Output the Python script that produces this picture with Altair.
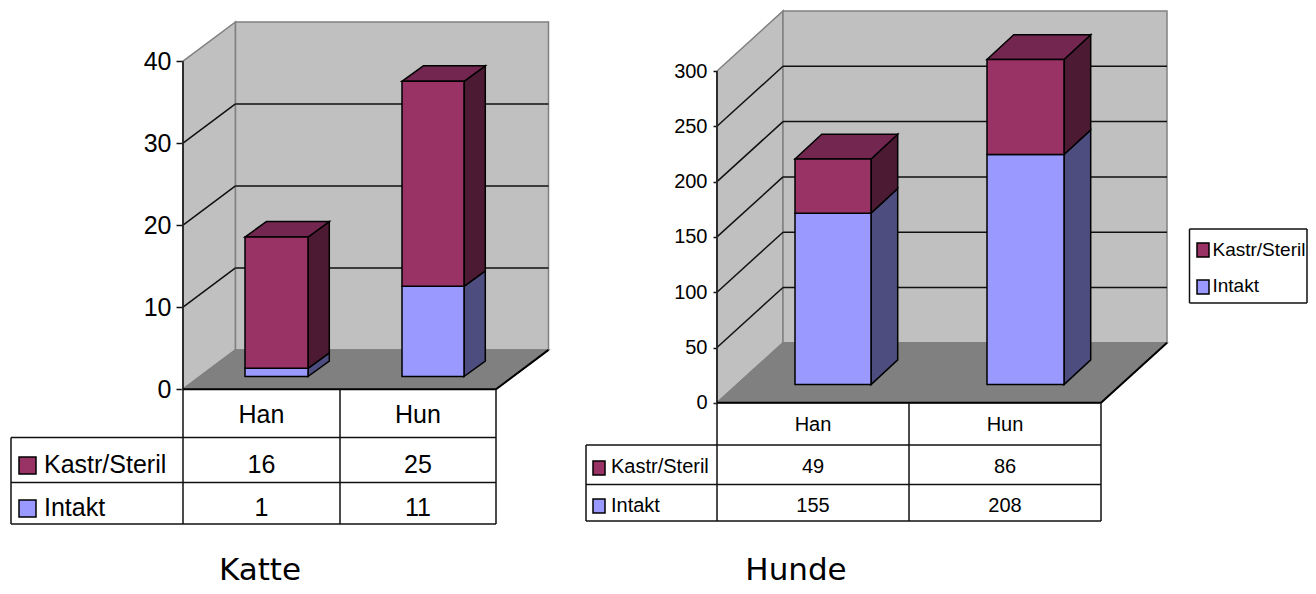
import altair as alt
import pandas as pd

CATEGORIES = ["Han", "Hun"]
SERIES = ["Kastr/Steril", "Intakt"]
KATTE_KASTR = [16, 25]
KATTE_INTAKT = [1, 11]
HUNDE_KASTR = [49, 86]
HUNDE_INTAKT = [155, 208]
KATTE_TICKS = [0, 10, 20, 30, 40]
HUNDE_TICKS = [0, 50, 100, 150, 200, 250, 300]
TITLES = ["Katte", "Hunde"]

KASTR = ("#993366", "#732650", "#4d1a33")
INTAKT = ("#9999ff", "#7373bf", "#4d4d80")
WALL = "#c0c0c0"
FLOOR = "#808080"

KATTE = dict(
    title=TITLES[0], title_x=260, ticks=KATTE_TICKS, kastr=KATTE_KASTR, intakt=KATTE_INTAKT,
    x0=8, x1=572, ax=183, y0=388.2, k=8.2, right=496, dx=52.5, dy=39.3,
    bars=[(245, 308), (402, 464)], bar_base=375.5, bdx=21.3, bdy=15.5,
    cols=[183, 340, 496], left=11, rows=[388.2, 436.5, 481.5, 523],
    base=[422, 471.5, 514.5], sw_x=(19, 36), sw_y=[(456, 473), (499, 516)], text_x=44,
    font="Liberation Sans", size=25, tick=7, pad=5, legend=False,
)
HUNDE = dict(
    title=TITLES[1], title_x=796, ticks=HUNDE_TICKS, kastr=HUNDE_KASTR, intakt=HUNDE_INTAKT,
    x0=572, x1=1308, ax=717, y0=401.8, k=1.106, right=1101, dx=66, dy=60,
    bars=[(795, 871), (987, 1064)], bar_base=383.6, bdx=26.7, bdy=24.7,
    cols=[717, 909, 1101], left=586, rows=[401.8, 444, 483.5, 520],
    base=[430, 472, 510.5], sw_x=(593, 605), sw_y=[(460, 474), (498, 512)], text_x=611,
    font="Liberation Sans", size=20, tick=4, pad=6, legend=True,
)


def panel(c):
    y0, k = c["y0"], c["k"]
    py = lambda Y: (y0 - Y) / k
    xs = alt.Scale(domain=[c["ax"], c["x1"]], nice=False, zero=False)
    ys = alt.Scale(domain=[py(586), py(8)], nice=False, zero=False)
    top = max(c["ticks"])
    ax, right, dx, dyv = c["ax"], c["right"], c["dx"], c["dy"] / k
    # one axis definition on every layer, so that the layers merge into one real axis
    y_axis = alt.Axis(values=c["ticks"], domain=False, grid=False,
                      tickSize=c["tick"], tickWidth=1.5, tickColor="#111111",
                      labelFont=c["font"], labelFontSize=c["size"], labelColor="#000000",
                      labelPadding=c["pad"], labelOverlap=False)
    X = lambda f="x": alt.X(f"{f}:Q", scale=xs, axis=None, title=None, stack=None)
    Y = lambda f="y": alt.Y(f"{f}:Q", scale=ys, axis=y_axis, title=None, stack=None)
    fill = alt.Fill("fill:N", scale=None)

    def vface(rows, **mk):
        d = pd.DataFrame(rows, columns=["id", "x", "y", "y2", "fill"])
        return alt.Chart(d).mark_area(orient="vertical", **mk).encode(
            x=X(), y=Y(), y2="y2:Q", fill=fill, detail="id:N")

    def hface(rows, **mk):
        d = pd.DataFrame(rows, columns=["id", "y", "x", "x2", "fill"])
        return alt.Chart(d).mark_area(orient="horizontal", **mk).encode(
            y=Y(), x=X(), x2="x2:Q", fill=fill, detail="id:N")

    def rules(rows, color, width):
        d = pd.DataFrame(rows, columns=["x", "x2", "y", "y2"])
        return alt.Chart(d).mark_rule(color=color, strokeWidth=width).encode(
            x=X(), x2="x2:Q", y=Y(), y2="y2:Q")

    def text(rows, font, size, align="center"):
        d = pd.DataFrame(rows, columns=["x", "y", "label"])
        return alt.Chart(d).mark_text(font=font, fontSize=size, align=align, baseline="alphabetic",
                                      color="#000000").encode(x=X(), y=Y(), text="label:N")

    # white hairline keeps the panel's left bound at its column edge
    pin = rules([(c["x0"] + 0.5, c["x0"] + 0.5, py(300), py(310))], "#ffffff", 1)

    walls = vface([
        ("side", ax, 0, top, WALL), ("side", ax + dx, dyv, top + dyv, WALL),
        ("back", ax + dx, dyv, top + dyv, WALL), ("back", right + dx, dyv, top + dyv, WALL),
    ], stroke="#808080", strokeWidth=1.5)
    floor = hface([
        ("floor", 0, ax, right, FLOOR), ("floor", dyv, ax + dx, right + dx, FLOOR),
    ], stroke="#808080", strokeWidth=1.5)

    grid_rows = []
    for t in c["ticks"][1:-1]:
        grid_rows.append((ax, ax + dx, t, t + dyv))
        grid_rows.append((ax + dx, right + dx, t + dyv, t + dyv))
    grid = rules(grid_rows, "#111111", 1.5)

    # bars, stacked from the two series
    lift = py(c["bar_base"])
    bdx, bdyv = c["bdx"], c["bdy"] / k
    sides, tops, fronts = [], [], []
    for i, (l, r) in enumerate(c["bars"]):
        lo, hi = lift, lift + c["intakt"][i]
        hi2 = hi + c["kastr"][i]
        for name, a, b, col in (("i", lo, hi, INTAKT), ("k", hi, hi2, KASTR)):
            sides += [(f"{name}{i}", r, a, b, col[2]), (f"{name}{i}", r + bdx, a + bdyv, b + bdyv, col[2])]
            fronts += [(f"{name}{i}", l, a, b, col[0]), (f"{name}{i}", r, a, b, col[0])]
        tops += [(f"t{i}", hi2, l, r, KASTR[1]), (f"t{i}", hi2 + bdyv, l + bdx, r + bdx, KASTR[1])]
    bar_side = vface(sides, stroke="#000000", strokeWidth=1.5)
    bar_top = hface(tops, stroke="#000000", strokeWidth=1.5)
    bar_front = vface(fronts, stroke="#000000", strokeWidth=1.5)

    # axis line, floor front edge, data table grid
    cols, rws = c["cols"], c["rows"]
    rv = [py(v) for v in rws]
    axis_line = rules([(ax, ax, 0, top)], "#222222", 1.8)
    front_edge = rules([(ax, right, 0, 0), (right, right + dx, 0, dyv)], "#000000", 2)
    tbl = []
    for xx in cols:
        tbl.append((xx, xx, rv[0], rv[3]))
    tbl.append((c["left"], c["left"], rv[1], rv[3]))
    tbl += [(c["left"], cols[2], rv[1], rv[1]), (c["left"], cols[2], rv[2], rv[2]),
            (c["left"], cols[2], rv[3], rv[3])]
    table = rules(tbl, "#111111", 1.5)

    mids = [(cols[0] + cols[1]) / 2, (cols[1] + cols[2]) / 2]
    base = [py(v) for v in c["base"]]
    cells = []
    for i, cat in enumerate(CATEGORIES):
        cells += [(mids[i], base[0], cat), (mids[i], base[1], str(c["kastr"][i])),
                  (mids[i], base[2], str(c["intakt"][i]))]
    cell_text = text(cells, c["font"], c["size"])
    row_text = text([(c["text_x"], base[1], SERIES[0]), (c["text_x"], base[2], SERIES[1])],
                    c["font"], c["size"], align="left")

    sw = [("s0", py(c["sw_y"][0][0]), c["sw_x"][0], c["sw_x"][1], KASTR[0]),
          ("s0", py(c["sw_y"][0][1]), c["sw_x"][0], c["sw_x"][1], KASTR[0]),
          ("s1", py(c["sw_y"][1][0]), c["sw_x"][0], c["sw_x"][1], INTAKT[0]),
          ("s1", py(c["sw_y"][1][1]), c["sw_x"][0], c["sw_x"][1], INTAKT[0])]
    swatches = hface(sw, stroke="#000000", strokeWidth=1.5)

    title = text([(c["title_x"], py(578.5), c["title"])], "DejaVu Sans", 31)

    layers = [pin, walls, floor, grid, bar_side, bar_top, bar_front, axis_line, front_edge,
              table, cell_text, row_text, swatches, title]

    if c["legend"]:
        lx0, lx1, ly0, ly1 = 1189.5, 1307, 228, 302
        box = rules([(lx0, lx0, py(ly0), py(ly1)), (lx1, lx1, py(ly0), py(ly1)),
                     (lx0, lx1, py(ly0), py(ly0)), (lx0, lx1, py(ly1), py(ly1))], "#111111", 1.5)
        lsw = [("l0", py(242), 1197, 1209, KASTR[0]), ("l0", py(256), 1197, 1209, KASTR[0]),
               ("l1", py(279), 1197, 1209, INTAKT[0]), ("l1", py(293), 1197, 1209, INTAKT[0])]
        ltext = text([(1212.5, py(255), SERIES[0]), (1212.5, py(291), SERIES[1])],
                     c["font"], 19, align="left")
        layers += [box, hface(lsw, stroke="#000000", strokeWidth=1.5), ltext]

    return alt.layer(*layers).properties(width=c["x1"] - c["ax"], height=578)


chart = (
    alt.hconcat(panel(KATTE), panel(HUNDE), spacing=0)
    .properties(padding=0, background="#ffffff")
    .configure_view(stroke=None)
    .configure_concat(spacing=0)
)
chart.save("out.html", embed_options={"renderer": "svg", "actions": False})
